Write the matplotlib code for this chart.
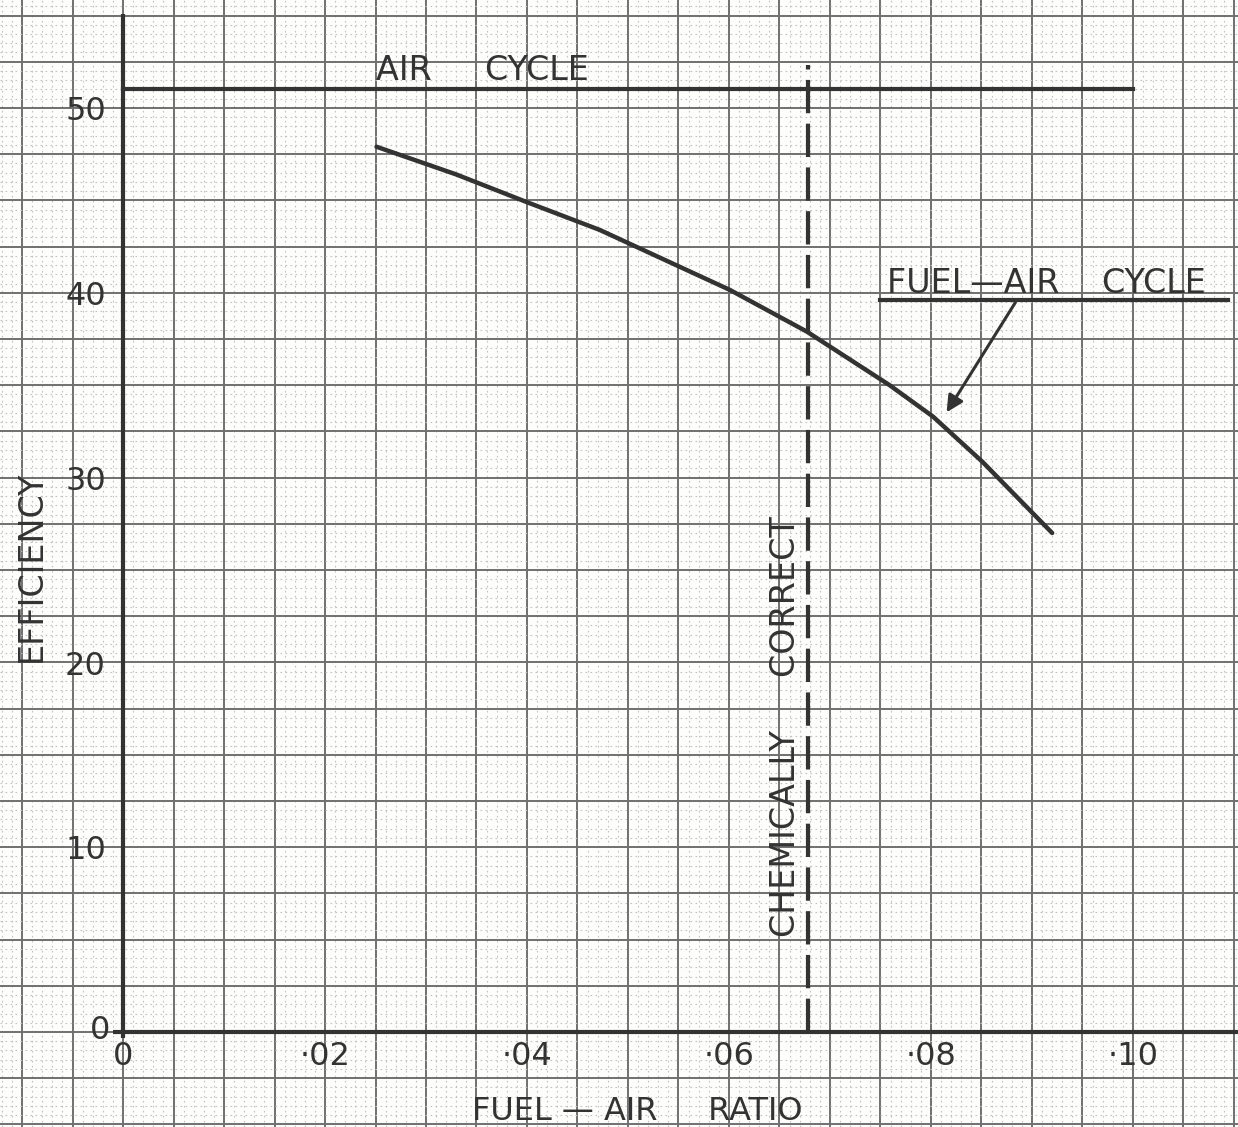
import numpy as np
import matplotlib.pyplot as plt
from matplotlib.ticker import MultipleLocator

# values
fuel_air = [0.0251, 0.0330, 0.0400, 0.0472, 0.0601, 0.0677, 0.0759, 0.0802, 0.0851, 0.0920]
efficiency = [47.9, 46.4, 44.9, 43.4, 40.15, 37.9, 35.0, 33.3, 30.85, 27.0]
air_cycle = 51.0
air_cycle_end = 0.10
chem_correct = 0.0678
x_ticks = [0, 0.02, 0.04, 0.06, 0.08, 0.10]
x_tick_labels = ["0", "·02", "·04", "·06", "·08", "·10"]
y_ticks = [0, 10, 20, 30, 40, 50]
y_tick_labels = ["0", "10", "20", "30", "40", "50"]

ink = "#333333"

fig = plt.figure(figsize=(12.38, 11.27), dpi=100)
fig.patch.set_facecolor("#fdfdfc")
ax = fig.add_axes([0, 0, 1, 1])
ax.set_facecolor("#fdfdfc")
ax.set_xlim(-0.01218, 0.1104)
ax.set_ylim(-5.14, 55.84)
for s in ax.spines.values():
    s.set_visible(False)

# graph paper
ax.xaxis.set_major_locator(MultipleLocator(0.005))
ax.xaxis.set_minor_locator(MultipleLocator(0.001))
ax.yaxis.set_major_locator(MultipleLocator(2.5))
ax.yaxis.set_minor_locator(MultipleLocator(0.5))
ax.grid(which="major", color="#707070", lw=1.4)
ax.grid(which="minor", color="#c2c2c2", lw=0.8, ls=(0, (1.5, 3)))
ax.tick_params(which="both", length=0, labelbottom=False, labelleft=False)
ax.set_axisbelow(True)

# axes lines
ax.plot([-0.001, 0.1104], [0, 0], color=ink, lw=3, solid_capstyle="butt")
ax.plot([0, 0], [-0.3, 55.1], color=ink, lw=3, solid_capstyle="butt")

# tick labels
tk = dict(color=ink, fontsize=23, family="DejaVu Sans")
for xv, lab in zip(x_ticks, x_tick_labels):
    ax.text(xv, -1.35, lab, ha="center", va="center", **tk)
for yv, lab in zip(y_ticks, y_tick_labels):
    if yv == 0:
        ax.text(-0.0023, 0.1, lab, ha="center", va="center", **tk)
    else:
        ax.text(-0.0017, yv - 0.2, lab, ha="right", va="center", **tk)

lb = dict(color=ink, fontsize=24, family="DejaVu Sans")

# air cycle
ax.plot([0, air_cycle_end], [air_cycle, air_cycle], color=ink, lw=3)
ax.text(0.0250, 51.5, "AIR     CYCLE", ha="left", va="baseline", **lb)

# chemically correct line
ax.plot([chem_correct, chem_correct], [0, 52.3], color=ink, lw=3,
        dashes=(8, 2.5))
ax.text(0.0656, 16.5, "CHEMICALLY     CORRECT", rotation=90,
        ha="center", va="center", **lb)

# fuel-air cycle curve
ax.plot(fuel_air, efficiency, color=ink, lw=3.2, solid_capstyle="round",
        solid_joinstyle="round")
ax.text(0.0756, 40.0, "FUEL—AIR    CYCLE", ha="left", va="baseline", **lb)
ax.plot([0.0750, 0.1094], [39.6, 39.6], color=ink, lw=3)
ax.annotate("", xy=(0.0814, 33.4), xytext=(0.0885, 39.6),
            arrowprops=dict(arrowstyle="-|>", color=ink, lw=2.2,
                            mutation_scale=25))

# axis titles
ax.text(-0.0091, 25.2, "EFFICIENCY", rotation=90, ha="center", va="center", **lb)
ax.text(0.0509, -4.3, "FUEL — AIR     RATIO", ha="center", va="center",
        color=ink, fontsize=23, family="DejaVu Sans")

fig.savefig("out.png", dpi=100, facecolor=fig.get_facecolor())
